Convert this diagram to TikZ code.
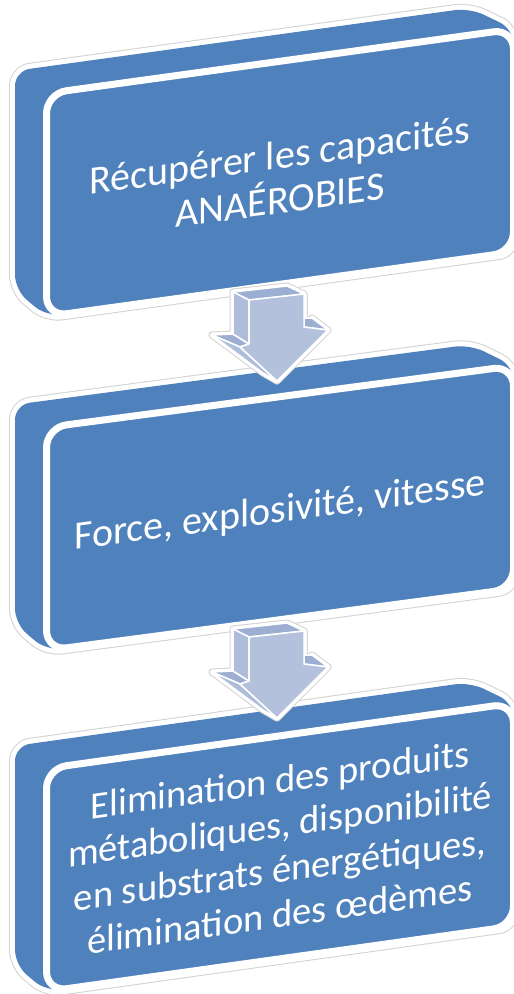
\documentclass[tikz,border=0pt]{standalone}
\usepackage{fontspec}
\setmainfont{Carlito}

\definecolor{boxblue}{HTML}{4F81BD}
\definecolor{arrowfront}{HTML}{B3C1DC}
\definecolor{arrowside}{HTML}{AEBDDA}
\definecolor{arrowtop}{HTML}{9CAFD3}
\definecolor{rimgray}{HTML}{D2D2D2}

\tikzset{
  rim/.style={draw=rimgray, line width=12pt},
  halo/.style={draw=white, line width=10pt},
  slabfill/.style={fill=boxblue},
  frontface/.style={fill=boxblue, draw=white, line width=7pt},
  boxlabel/.style={text=white, align=center, transform shape, inner sep=0pt},
  arrowrim/.style={draw=rimgray, line width=7pt, line join=round},
  arrowhalo/.style={draw=white, line width=5pt, line join=round},
  arrowpart/.style={draw=white, line width=1.5pt, line join=round},
}

% A slanted slab: back plate, connecting sides and a white-rimmed front face.
% #1 node name, #2 origin (front bottom-left), #3 slant, #4 text offset, #5 font size, #6 text
\newcommand{\slabbox}[6]{%
  \begin{scope}[shift={#2}, yslant=#3]
    \path[rim, rounded corners=15pt] (-31.5,-31) -- (-31.5,-250) -- (423.5,-250) -- (467,-223) -- (467,0) -- (0,0) -- cycle;
    \path[halo, rounded corners=15pt] (-31.5,-31) -- (-31.5,-250) -- (423.5,-250) -- (467,-223) -- (467,0) -- (0,0) -- cycle;
    \path[slabfill, rounded corners=15pt] (-31.5,-31) -- (-31.5,-250) -- (423.5,-250) -- (467,-223) -- (467,0) -- (0,0) -- cycle;
    \path[frontface, rounded corners=20pt] (0,0) rectangle (467,-223);
    \node[boxlabel, font=\fontsize{#5}{45}\selectfont] (#1) at (233.5,#4) {#6};
  \end{scope}}

% An extruded down arrow; #1 vertical offset
\newcommand{\steparrow}[1]{%
  \begin{scope}[shift={(0,#1)}]
    \foreach \sty in {arrowrim, arrowhalo}{
      \path[\sty] (233,292) -- (287,286) -- (304,294) -- (304,327) -- (312,318) -- (328,330)
        -- (277,381) -- (263,373) -- (212,335) -- (233,334) -- cycle;
      \path[\sty] (249,300) -- (304,294) -- (304,327) -- (328,330) -- (277,381) -- (240,347) -- (249,344) -- cycle;
    }
    % top faces
    \path[arrowpart, fill=arrowtop] (233,292) -- (287,286) -- (304,294) -- (249,300) -- cycle;
    \path[arrowpart, fill=arrowtop] (287,318) -- (312,318) -- (328,330) -- (304,327) -- cycle;
    \path[arrowpart, fill=arrowtop] (233,334) -- (249,344) -- (240,347) -- (212,335) -- cycle;
    % side faces
    \path[arrowpart, fill=arrowside] (233,292) -- (249,300) -- (249,344) -- (233,334) -- cycle;
    \path[arrowpart, fill=arrowside] (212,335) -- (240,347) -- (277,381) -- (263,373) -- cycle;
    % front face
    \path[arrowpart, fill=arrowfront] (249,300) -- (304,294) -- (304,327) -- (328,330) -- (277,381) -- (240,347) -- (249,344) -- cycle;
  \end{scope}}

\begin{document}
\begin{tikzpicture}[x=1pt, y=-1pt]
  \useasboundingbox (0,0) rectangle (514,994);

  \slabbox{recup}{(46.5,316.5)}{0.138}{-107}{40}{Récupérer les capacités\\ANAÉROBIES}
  \slabbox{force}{(46.5,650.5)}{0.132}{-108}{40}{Force, explosivité, vitesse}
  \slabbox{elim}{(46.5,991.5)}{0.140}{-112}{38.5}{Elimination des produits\\métaboliques, disponibilité\\en substrats énergétiques,\\élimination des œdèmes}

  \steparrow{0}
  \steparrow{337}
\end{tikzpicture}
\end{document}
